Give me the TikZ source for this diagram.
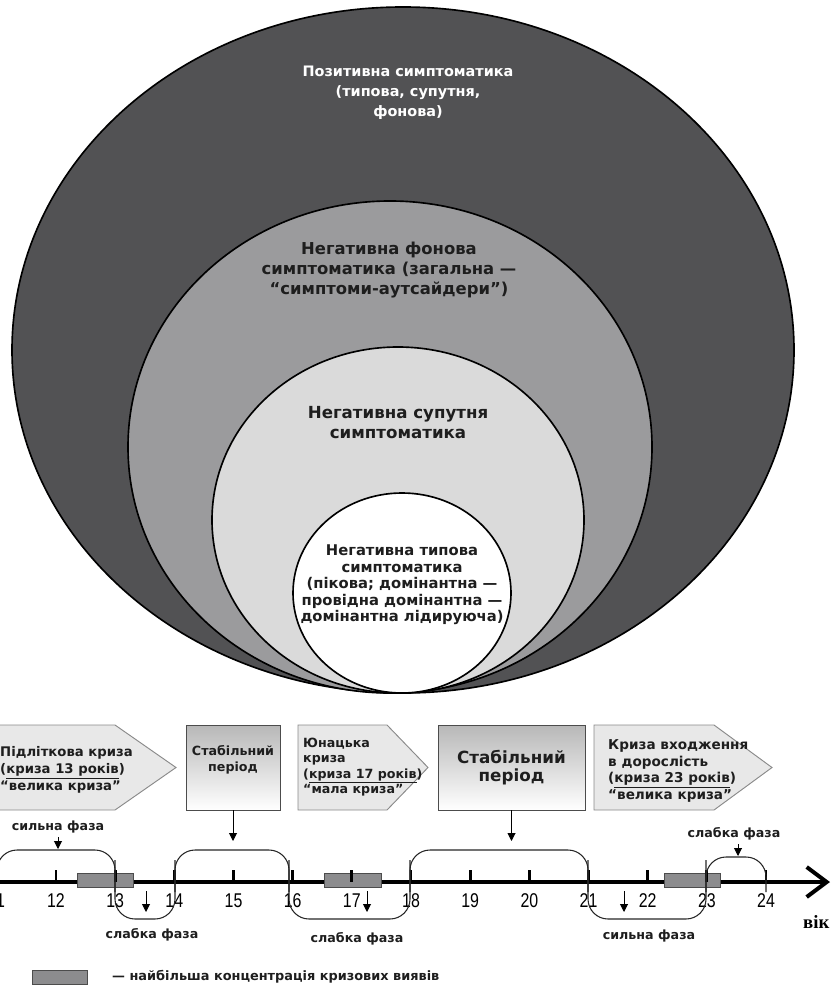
\documentclass[tikz,border=0pt]{standalone}
\usepackage{fontspec}
\setmainfont{DejaVu Sans}
\newfontfamily\numfont[FakeStretch=0.8]{Liberation Sans}
\newfontfamily\agefont{Liberation Serif}
\usepackage{xcolor}
\usetikzlibrary{arrows.meta,positioning,calc}

\definecolor{zoneouter}{HTML}{525254}
\definecolor{zonemid}{HTML}{9B9B9D}
\definecolor{zoneinner}{HTML}{DADADA}
\definecolor{crisisfill}{HTML}{E8E8E8}
\definecolor{crisisline}{HTML}{8A8A8A}
\definecolor{peakfill}{HTML}{8C8C8E}
\definecolor{inktext}{HTML}{1E1E1E}

\tikzset{
  zone/.style={draw=black,line width=1.4pt},
  zonelabel/.style={align=center,font=\bfseries\fontsize{12.3}{17}\selectfont,text=inktext},
  crisisbox/.style={fill=crisisfill,draw=crisisline,line width=0.8pt},
  crisislabel/.style={anchor=west,align=left,inner sep=0pt,font=\bfseries\fontsize{11.3}{14}\selectfont,text=inktext},
  stablebox/.style={draw=black!70,line width=0.8pt,top color=black!28,bottom color=white,minimum height=2.55cm},
  phase/.style={draw=black!85,line width=0.9pt,rounded corners=6mm},
  phaselabel/.style={font=\bfseries\fontsize{10.8}{12}\selectfont,text=inktext},
  pointer/.style={-{Triangle[length=2.4mm,width=2.4mm]},line width=0.8pt},
  peak/.style={fill=peakfill,draw=black!70,line width=0.6pt}
}

\begin{document}
\begin{tikzpicture}[x=0.03cm,y=-0.03cm]
    \useasboundingbox (0,0) rectangle (831,988);
    \clip (0,0) rectangle (831,988);

    % Nested zones of symptoms
    \begin{scope}
        \fill[zoneouter] (403,350) ellipse [x radius=391,y radius=343];
        \draw[zone] (403,350) ellipse [x radius=391,y radius=343];
        \fill[zonemid] (390,447) ellipse [x radius=262,y radius=246];
        \draw[zone] (390,447) ellipse [x radius=262,y radius=246];
        \fill[zoneinner] (398,520) ellipse [x radius=186,y radius=173];
        \draw[zone] (398,520) ellipse [x radius=186,y radius=173];
        \fill[white] (402,593) ellipse [x radius=109,y radius=100];
        \draw[zone] (402,593) ellipse [x radius=109,y radius=100];

        \node[zonelabel,text=white] (positive) at (408,93) {Позитивна симптоматика\\(типова, супутня,\\фонова)};
        \node[zonelabel,font=\bfseries\fontsize{14}{17}\selectfont] (background) at (389,270) {Негативна фонова\\симптоматика (загальна —\\“симптоми-аутсайдери”)};
        \node[zonelabel,font=\bfseries\fontsize{14.2}{17}\selectfont] (concomitant) at (398,423) {Негативна супутня\\симптоматика};
        \node[zonelabel,font=\bfseries\fontsize{12.6}{14}\selectfont] (typical) at (402,585) {Негативна типова\\симптоматика\\(пікова; домінантна —\\провідна домінантна —\\домінантна лідируюча)};
    \end{scope}

    % Crises and stable periods
    \begin{scope}
        \draw[crisisbox] (-5,725) -- (115,725) -- (176,767.5) -- (115,810) -- (-5,810) -- cycle;
        \node[crisislabel,font=\bfseries\fontsize{11.3}{14.5}\selectfont] (teencrisis) at (0,770) {Підліткова криза\\(\underline{криза 13 років})\\“велика криза”};

        \node[stablebox,minimum width=2.82cm] (stabA) at (233,767.5) {};
        \node[align=center,font=\bfseries\fontsize{10.8}{13.6}\selectfont,text=inktext] (stabAtext) at (233,760) {Стабільний\\період};

        \draw[crisisbox] (298,725) -- (387,725) -- (428,767.5) -- (387,810) -- (298,810) -- cycle;
        \node[crisislabel,font=\bfseries\fontsize{10.8}{13}\selectfont] (youthcrisis) at (303,767) {Юнацька\\криза\\(\underline{криза 17 років})\\“мала криза”};

        \node[stablebox,minimum width=4.41cm,align=center,font=\bfseries\fontsize{14.3}{16}\selectfont,text=inktext] (stabB) at (511.5,767.5) {Стабільний\\період};

        \draw[crisisbox] (594,725) -- (714,725) -- (772,767.5) -- (714,810) -- (594,810) -- cycle;
        \node[crisislabel,font=\bfseries\fontsize{11.6}{14}\selectfont] (adultcrisis) at (608,771) {Криза входження\\в дорослість\\(\underline{криза 23 років})\\“велика криза”};
    \end{scope}

    % Age axis
    \coordinate (axisstart) at (0,882);
    \coordinate (axisend) at (830,882);
    \draw[line width=3.4pt,-{Straight Barb[length=6mm,width=9mm]}] (axisstart) -- (axisend);
    \node[font=\agefont\bfseries\fontsize{16}{16}\selectfont,anchor=west,inner sep=0pt] (age) at (803,922) {вік};

    % Peaks of crisis
    \draw[peak] (77,873) rectangle (133,887);
    \draw[peak] (324,873) rectangle (381,887);
    \draw[peak] (664,873) rectangle (720,887);

    \foreach \n in {11,...,24}{
        \pgfmathsetmacro{\xa}{56+(\n-12)*59.17}
        \draw[line width=2.4pt] (\xa,870) -- (\xa,882);
        \node[font=\numfont\fontsize{17}{17}\selectfont] (year\n) at (\xa,901) {\n};
    }

    % Phases above the axis
    \draw[phase] (-3,892) -- (-3,850) -- (115,850) -- (115,892);
    \draw[phase] (175,892) -- (175,850) -- (289,850) -- (289,892);
    \draw[phase] (410,892) -- (410,850) -- (588,850) -- (588,892);
    \draw[phase] (706,892) -- (706,857) -- (766,857) -- (766,892);

    % Phases below the axis
    \draw[phase] (115,860) -- (115,919) -- (175,919) -- (175,860);
    \draw[phase] (289,860) -- (289,919) -- (410,919) -- (410,860);
    \draw[phase] (588,860) -- (588,919) -- (706,919) -- (706,860);

    % Phase labels and pointers
    \node[phaselabel] (strongA) at (58,827) {сильна фаза};
    \coordinate (strongAtip) at (58,849);
    \draw[pointer] (strongA.south) -- (strongAtip);

    \coordinate (stabAtip) at (233,841);
    \draw[pointer] (stabA.south) -- (stabAtip);
    \coordinate (stabBtip) at (511.5,841);
    \draw[pointer] (stabB.south) -- (stabBtip);

    \node[phaselabel] (weakC) at (734,834) {слабка фаза};
    \coordinate (weakCtip) at (738,856);
    \draw[pointer] (weakC.south -| weakCtip) -- (weakCtip);

    \coordinate (weakAfrom) at (146,891);
    \coordinate (weakAtip) at (146,912);
    \draw[pointer] (weakAfrom) -- (weakAtip);
    \node[phaselabel] (weakA) at (152,935) {слабка фаза};

    \coordinate (weakBfrom) at (367,891);
    \coordinate (weakBtip) at (367,912);
    \draw[pointer] (weakBfrom) -- (weakBtip);
    \node[phaselabel] (weakB) at (357,939) {слабка фаза};

    \coordinate (strongBfrom) at (624,891);
    \coordinate (strongBtip) at (624,912);
    \draw[pointer] (strongBfrom) -- (strongBtip);
    \node[phaselabel] (strongB) at (649,936) {сильна фаза};

    % Legend
    \draw[peak] (32,970) rectangle (87,984);
    \node[phaselabel,font=\bfseries\fontsize{11}{12}\selectfont,anchor=west] (legend) at (108,977) {— найбільша концентрація кризових виявів};
\end{tikzpicture}
\end{document}
